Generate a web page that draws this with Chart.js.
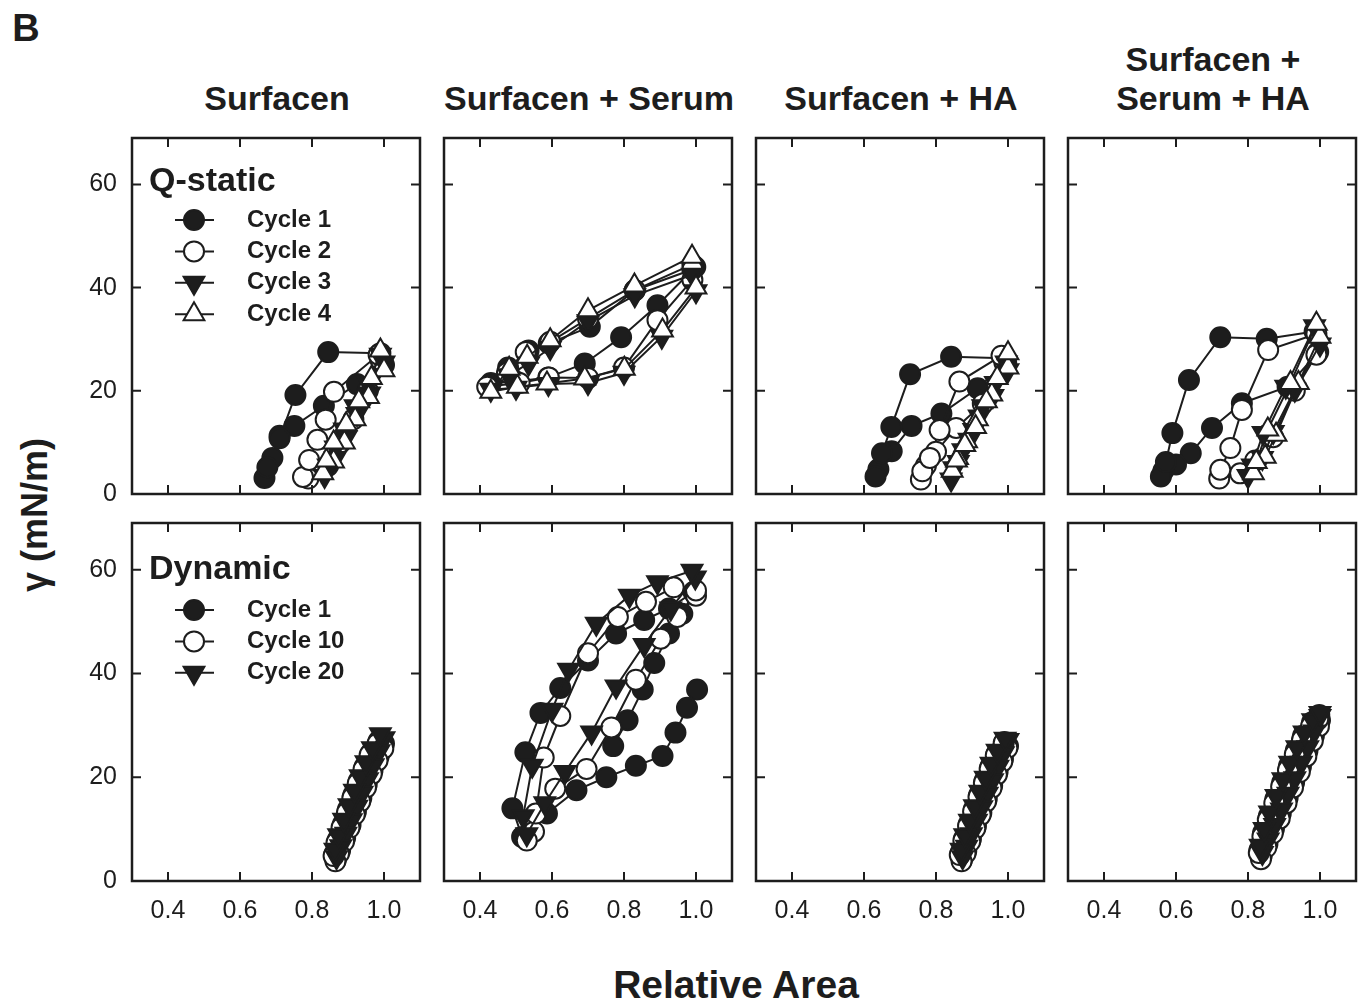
<!DOCTYPE html>
<html lang="en">

<head>
    <meta charset="UTF-8">
    <title>Surface tension vs relative area</title>
    <script src="https://cdn.jsdelivr.net/npm/chart.js"></script>
    <style>
        body { margin: 0; background: #fff; }
        #figure {
            position: relative; width: 1367px; height: 1003px; overflow: hidden;
            font-family: "Liberation Sans", Arial, sans-serif; color: #1d1d1d;
        }
        .lbl { position: absolute; font-weight: bold; white-space: pre; line-height: 1; text-align: center; transform: translate(-50%, -50%); }
        .title { position: absolute; font-weight: bold; font-size: 34px; line-height: 39px; white-space: pre; text-align: center; transform: translate(-50%, -100%); }
        canvas { position: absolute; }
    </style>
</head>

<body>
    <div id="figure">
        <div class="lbl" style="left:26px; top:28px; font-size:38px;">B</div>
        <div class="lbl" style="left:35px; top:515px; font-size:36px; transform: translate(-50%, -50%) rotate(-90deg);">γ (mN/m)</div>
        <div class="lbl" style="left:736px; top:984px; font-size:39px;">Relative Area</div>
    </div>

    <script>
        // Column headers and legend text
        const conditions = ['Surfacen', 'Surfacen + Serum', 'Surfacen + HA', 'Surfacen +\nSerum + HA'];
        const rowTitles = ['Q-static', 'Dynamic'];
        const qsCycles = ['Cycle 1', 'Cycle 2', 'Cycle 3', 'Cycle 4'];
        const dynCycles = ['Cycle 1', 'Cycle 10', 'Cycle 20'];

        // Axis ticks
        const xTicks = [0.4, 0.6, 0.8, 1.0];
        const yTicks = [0, 20, 40, 60];

        // ---- Quasi-static cycles (relative area, surface tension mN/m) ----
        // Surfacen
        const qsSurf_c1_x = [1.000, 0.925, 0.833, 0.751, 0.710, 0.690, 0.668, 0.676, 0.710, 0.754, 0.845, 0.990];
        const qsSurf_c1_y = [25.0, 21.3, 17.1, 13.2, 11.3, 7.0, 3.1, 5.2, 10.8, 19.2, 27.5, 27.3];
        const qsSurf_c2_x = [0.990, 0.955, 0.915, 0.880, 0.845, 0.790, 0.775, 0.792, 0.815, 0.838, 0.861, 0.985];
        const qsSurf_c2_y = [26.0, 20.0, 14.5, 10.0, 5.5, 3.0, 3.3, 6.6, 10.5, 14.4, 19.8, 27.0];
        const qsSurf_c3_x = [1.000, 0.960, 0.925, 0.895, 0.865, 0.835, 0.845, 0.865, 0.890, 0.920, 0.955, 0.990];
        const qsSurf_c3_y = [25.5, 19.5, 15.5, 11.0, 7.0, 3.5, 5.5, 9.0, 12.5, 17.0, 21.5, 27.0];
        const qsSurf_c4_x = [1.000, 0.957, 0.920, 0.890, 0.860, 0.830, 0.840, 0.860, 0.895, 0.930, 0.965, 0.990];
        const qsSurf_c4_y = [24.0, 18.8, 14.5, 10.0, 6.3, 4.0, 6.5, 10.0, 13.5, 18.0, 22.5, 27.8];

        // Surfacen + Serum
        const qsSer_c1_x = [0.998, 0.893, 0.792, 0.691, 0.590, 0.500, 0.430, 0.478, 0.535, 0.591, 0.705, 0.830, 0.990];
        const qsSer_c1_y = [44.0, 36.6, 30.4, 25.3, 22.6, 21.8, 21.5, 24.5, 27.8, 29.2, 32.4, 39.5, 44.5];
        const qsSer_c2_x = [0.990, 0.893, 0.800, 0.700, 0.591, 0.510, 0.420, 0.475, 0.527, 0.595, 0.700, 0.830, 0.990];
        const qsSer_c2_y = [41.5, 33.7, 24.5, 22.5, 22.6, 21.5, 20.8, 23.5, 27.5, 29.5, 34.0, 39.5, 43.5];
        const qsSer_c3_x = [1.000, 0.905, 0.800, 0.700, 0.590, 0.500, 0.430, 0.480, 0.535, 0.595, 0.700, 0.830, 0.990];
        const qsSer_c3_y = [39.3, 30.5, 23.5, 21.5, 21.3, 20.6, 20.2, 23.0, 25.3, 28.3, 33.5, 38.5, 42.5];
        const qsSer_c4_x = [1.000, 0.907, 0.801, 0.691, 0.586, 0.504, 0.430, 0.481, 0.531, 0.595, 0.700, 0.829, 0.989];
        const qsSer_c4_y = [40.0, 31.7, 24.3, 22.4, 21.4, 20.8, 19.8, 24.3, 26.6, 29.8, 35.6, 40.4, 46.0];

        // Surfacen + HA
        const qsHA_c1_x = [0.995, 0.916, 0.815, 0.732, 0.677, 0.640, 0.632, 0.650, 0.676, 0.728, 0.842, 0.990];
        const qsHA_c1_y = [25.5, 20.5, 15.6, 13.2, 8.3, 4.8, 3.4, 7.9, 13.0, 23.2, 26.6, 26.3];
        const qsHA_c2_x = [0.990, 0.930, 0.856, 0.800, 0.772, 0.758, 0.762, 0.783, 0.810, 0.865, 0.982];
        const qsHA_c2_y = [25.5, 17.5, 12.8, 8.2, 5.5, 2.8, 4.4, 7.0, 12.4, 21.8, 26.8];
        const qsHA_c3_x = [1.000, 0.958, 0.920, 0.892, 0.862, 0.842, 0.850, 0.875, 0.905, 0.930, 0.965, 0.995];
        const qsHA_c3_y = [24.0, 19.0, 15.0, 10.5, 6.2, 2.8, 5.0, 8.5, 12.4, 17.0, 21.5, 25.5];
        const qsHA_c4_x = [1.000, 0.955, 0.915, 0.885, 0.860, 0.845, 0.857, 0.880, 0.910, 0.940, 0.970, 1.000];
        const qsHA_c4_y = [24.5, 19.3, 14.5, 10.2, 7.0, 4.5, 6.5, 9.5, 13.0, 18.0, 22.5, 27.3];

        // Surfacen + Serum + HA
        const qsSerHA_c1_x = [0.995, 0.910, 0.783, 0.700, 0.641, 0.600, 0.565, 0.558, 0.572, 0.590, 0.636, 0.723, 0.852, 0.985];
        const qsSerHA_c1_y = [27.5, 20.8, 17.6, 12.8, 7.9, 5.7, 4.5, 3.4, 6.2, 11.8, 22.1, 30.4, 30.1, 31.5];
        const qsSerHA_c2_x = [0.990, 0.930, 0.870, 0.820, 0.778, 0.720, 0.723, 0.751, 0.783, 0.856, 0.990];
        const qsSerHA_c2_y = [27.0, 20.0, 11.0, 6.5, 4.0, 3.0, 4.7, 8.9, 16.3, 27.9, 31.0];
        const qsSerHA_c3_x = [1.000, 0.930, 0.870, 0.840, 0.800, 0.812, 0.842, 0.905, 0.985];
        const qsSerHA_c3_y = [29.0, 20.2, 12.0, 7.0, 3.5, 5.5, 11.8, 20.8, 32.5];
        const qsSerHA_c4_x = [1.000, 0.940, 0.878, 0.848, 0.815, 0.823, 0.855, 0.918, 0.990];
        const qsSerHA_c4_y = [30.5, 21.5, 11.5, 7.2, 4.0, 6.2, 12.5, 21.5, 33.0];

        // ---- Dynamic cycles ----
        // Surfacen
        const dySurf_c1_x = [1.000, 0.985, 0.968, 0.952, 0.937, 0.922, 0.907, 0.892, 0.878, 0.866, 0.862, 0.872, 0.886, 0.900, 0.915, 0.930, 0.946, 0.963, 0.985];
        const dySurf_c1_y = [26.5, 24.0, 21.3, 18.6, 16.0, 13.4, 10.8, 8.3, 5.9, 4.0, 5.2, 8.0, 11.0, 13.8, 16.6, 19.3, 22.0, 24.6, 27.0];
        const dySurf_c2_x = [0.998, 0.982, 0.966, 0.950, 0.934, 0.919, 0.904, 0.889, 0.875, 0.865, 0.860, 0.868, 0.882, 0.897, 0.912, 0.927, 0.943, 0.960, 0.982];
        const dySurf_c2_y = [25.5, 23.2, 20.6, 18.0, 15.3, 12.8, 10.2, 7.6, 5.3, 3.8, 4.8, 7.4, 10.3, 13.2, 16.0, 18.8, 21.5, 24.3, 26.5];
        const dySurf_c3_x = [1.000, 0.986, 0.970, 0.954, 0.939, 0.924, 0.909, 0.894, 0.880, 0.868, 0.864, 0.874, 0.888, 0.903, 0.918, 0.934, 0.950, 0.968, 0.990];
        const dySurf_c3_y = [27.5, 25.0, 22.3, 19.6, 17.0, 14.3, 11.7, 9.1, 6.7, 4.6, 6.0, 8.8, 11.8, 14.6, 17.4, 20.2, 22.9, 25.6, 28.3];

        // Surfacen + Serum
        const dySer_c1_x = [1.003, 0.975, 0.943, 0.907, 0.833, 0.751, 0.668, 0.586, 0.517, 0.490, 0.526, 0.568, 0.623, 0.700, 0.778, 0.856, 0.925, 0.993, 0.962, 0.925, 0.884, 0.852, 0.810, 0.770];
        const dySer_c1_y = [36.9, 33.4, 28.6, 24.1, 22.2, 20.0, 17.5, 13.0, 8.5, 14.0, 24.8, 32.4, 37.2, 42.5, 47.7, 50.3, 52.5, 55.7, 51.5, 47.7, 42.0, 36.9, 31.0, 26.0];
        const dySer_c2_x = [1.000, 0.948, 0.902, 0.833, 0.765, 0.696, 0.609, 0.550, 0.530, 0.555, 0.577, 0.623, 0.700, 0.783, 0.861, 0.938, 1.000];
        const dySer_c2_y = [55.0, 50.9, 46.7, 38.8, 29.6, 21.6, 17.8, 9.5, 7.8, 13.0, 23.8, 31.8, 43.9, 50.9, 53.8, 56.6, 56.0];
        const dySer_c3_x = [0.998, 0.930, 0.856, 0.778, 0.710, 0.636, 0.580, 0.530, 0.520, 0.545, 0.600, 0.646, 0.723, 0.815, 0.893, 0.989];
        const dySer_c3_y = [58.5, 52.5, 45.5, 37.5, 28.6, 21.0, 15.0, 9.0, 12.5, 22.2, 33.0, 40.7, 49.6, 55.0, 57.6, 59.8];

        // Surfacen + HA
        const dyHA_c1_x = [1.000, 0.986, 0.971, 0.956, 0.941, 0.926, 0.911, 0.897, 0.884, 0.872, 0.868, 0.878, 0.891, 0.905, 0.920, 0.935, 0.951, 0.968, 0.990];
        const dyHA_c1_y = [26.0, 23.5, 21.0, 18.4, 15.8, 13.2, 10.6, 8.1, 5.8, 4.0, 5.4, 8.2, 11.0, 13.8, 16.6, 19.3, 22.0, 24.5, 26.8];
        const dyHA_c2_x = [0.998, 0.984, 0.969, 0.954, 0.939, 0.924, 0.909, 0.895, 0.882, 0.871, 0.866, 0.876, 0.889, 0.903, 0.918, 0.933, 0.949, 0.966, 0.988];
        const dyHA_c2_y = [25.6, 23.0, 20.5, 17.9, 15.3, 12.7, 10.1, 7.6, 5.3, 3.8, 5.0, 7.8, 10.6, 13.4, 16.2, 18.9, 21.6, 24.2, 26.6];
        const dyHA_c3_x = [1.000, 0.987, 0.972, 0.957, 0.942, 0.927, 0.912, 0.898, 0.885, 0.874, 0.870, 0.880, 0.893, 0.907, 0.922, 0.937, 0.953, 0.970, 0.992];
        const dyHA_c3_y = [27.2, 24.6, 22.0, 19.4, 16.8, 14.2, 11.6, 9.0, 6.6, 4.6, 6.0, 8.8, 11.6, 14.4, 17.2, 19.9, 22.6, 25.1, 27.4];

        // Surfacen + Serum + HA
        const dySerHA_c1_x = [1.000, 0.983, 0.965, 0.947, 0.928, 0.910, 0.891, 0.872, 0.854, 0.838, 0.832, 0.842, 0.858, 0.876, 0.895, 0.914, 0.933, 0.953, 0.978, 0.998];
        const dySerHA_c1_y = [31.0, 28.0, 25.0, 22.0, 19.0, 16.0, 13.0, 10.0, 7.2, 4.8, 6.0, 9.3, 12.5, 15.8, 19.0, 22.2, 25.2, 28.0, 30.6, 32.0];
        const dySerHA_c2_x = [0.997, 0.980, 0.962, 0.944, 0.925, 0.907, 0.888, 0.869, 0.851, 0.836, 0.830, 0.840, 0.855, 0.873, 0.892, 0.911, 0.930, 0.950, 0.975, 0.995];
        const dySerHA_c2_y = [29.8, 27.0, 24.0, 21.0, 18.0, 15.0, 12.0, 9.2, 6.5, 4.2, 5.4, 8.6, 11.8, 15.0, 18.2, 21.4, 24.4, 27.2, 29.8, 31.2];
        const dySerHA_c3_x = [1.000, 0.984, 0.966, 0.948, 0.930, 0.911, 0.893, 0.874, 0.856, 0.840, 0.834, 0.845, 0.860, 0.878, 0.897, 0.916, 0.936, 0.956, 0.980, 1.000];
        const dySerHA_c3_y = [31.8, 28.8, 25.8, 22.8, 19.8, 16.8, 13.8, 10.8, 8.0, 5.4, 6.8, 10.0, 13.2, 16.4, 19.6, 22.8, 25.8, 28.6, 31.0, 32.4];

        // Panel layout (pixels)
        const INK = '#1d1d1d';
        const FONT = '"Liberation Sans", Arial, sans-serif';
        const PLOT_W = 290, AXIS_W = 120, AXIS_H = 60, PAD_T = 12, PAD_R = 12, TICK = 9;
        const colLeft = [132, 444, 756, 1068];
        const rowTop = [136, 521];
        const rowH = [358, 360];

        // Marker per cycle: filled circle, open circle, filled down triangle, open up triangle
        const markers = [
            { style: 'circle', rot: 0, r: 10, fill: INK },
            { style: 'circle', rot: 0, r: 10, fill: '#ffffff' },
            { style: 'triangle', rot: 180, r: 12, fill: INK },
            { style: 'triangle', rot: 0, r: 12, fill: '#ffffff' }
        ];

        const panels = [
            [[qsSurf_c1_x, qsSurf_c1_y], [qsSurf_c2_x, qsSurf_c2_y], [qsSurf_c3_x, qsSurf_c3_y], [qsSurf_c4_x, qsSurf_c4_y]],
            [[qsSer_c1_x, qsSer_c1_y], [qsSer_c2_x, qsSer_c2_y], [qsSer_c3_x, qsSer_c3_y], [qsSer_c4_x, qsSer_c4_y]],
            [[qsHA_c1_x, qsHA_c1_y], [qsHA_c2_x, qsHA_c2_y], [qsHA_c3_x, qsHA_c3_y], [qsHA_c4_x, qsHA_c4_y]],
            [[qsSerHA_c1_x, qsSerHA_c1_y], [qsSerHA_c2_x, qsSerHA_c2_y], [qsSerHA_c3_x, qsSerHA_c3_y], [qsSerHA_c4_x, qsSerHA_c4_y]],
            [[dySurf_c1_x, dySurf_c1_y], [dySurf_c2_x, dySurf_c2_y], [dySurf_c3_x, dySurf_c3_y]],
            [[dySer_c1_x, dySer_c1_y], [dySer_c2_x, dySer_c2_y], [dySer_c3_x, dySer_c3_y]],
            [[dyHA_c1_x, dyHA_c1_y], [dyHA_c2_x, dyHA_c2_y], [dyHA_c3_x, dyHA_c3_y]],
            [[dySerHA_c1_x, dySerHA_c1_y], [dySerHA_c2_x, dySerHA_c2_y], [dySerHA_c3_x, dySerHA_c3_y]]
        ];

        const fig = document.getElementById('figure');

        // Column headers
        conditions.forEach((name, c) => {
            const d = document.createElement('div');
            d.className = 'title';
            d.textContent = name;
            d.style.left = (colLeft[c] + PLOT_W / 2) + 'px';
            d.style.top = '117.5px';
            fig.appendChild(d);
        });

        function drawMarker(ctx, m, x, y) {
            ctx.beginPath();
            if (m.style === 'circle') {
                ctx.arc(x, y, m.r, 0, Math.PI * 2);
            } else {
                let rad = m.rot * Math.PI / 180;
                ctx.moveTo(x + Math.sin(rad) * m.r, y - Math.cos(rad) * m.r);
                for (let k = 0; k < 2; k++) {
                    rad += 2 * Math.PI / 3;
                    ctx.lineTo(x + Math.sin(rad) * m.r, y - Math.cos(rad) * m.r);
                }
                ctx.closePath();
            }
            ctx.fillStyle = m.fill;
            ctx.fill();
            ctx.lineWidth = 2;
            ctx.strokeStyle = INK;
            ctx.stroke();
        }

        // Box frame with inward ticks on all four sides
        const framePlugin = {
            id: 'frame',
            afterDraw(chart) {
                const { ctx, chartArea: a } = chart;
                const xs = chart.scales.x, ys = chart.scales.y;
                ctx.save();
                ctx.strokeStyle = INK;
                ctx.lineWidth = 2.5;
                ctx.strokeRect(a.left, a.top, a.right - a.left, a.bottom - a.top);
                ctx.lineWidth = 2;
                ctx.beginPath();
                xs.ticks.forEach(t => {
                    const px = xs.getPixelForValue(t.value);
                    ctx.moveTo(px, a.bottom); ctx.lineTo(px, a.bottom - TICK);
                    ctx.moveTo(px, a.top); ctx.lineTo(px, a.top + TICK);
                });
                ys.ticks.forEach(t => {
                    const py = ys.getPixelForValue(t.value);
                    ctx.moveTo(a.left, py); ctx.lineTo(a.left + TICK, py);
                    ctx.moveTo(a.right, py); ctx.lineTo(a.right - TICK, py);
                });
                ctx.stroke();
                ctx.restore();
            }
        };

        // Legend drawn inside the first panel of each row
        function legendPlugin(title, labels, headY, firstY) {
            return {
                id: 'cycleLegend',
                afterDraw(chart) {
                    const { ctx, chartArea: a } = chart;
                    ctx.save();
                    ctx.fillStyle = INK;
                    ctx.textAlign = 'left';
                    ctx.textBaseline = 'middle';
                    ctx.font = 'bold 34px ' + FONT;
                    ctx.fillText(title, a.left + 17, a.top + headY);
                    labels.forEach((lab, i) => {
                        const cy = a.top + firstY + i * 31.4;
                        ctx.beginPath();
                        ctx.moveTo(a.left + 43, cy);
                        ctx.lineTo(a.left + 82, cy);
                        ctx.lineWidth = 2;
                        ctx.strokeStyle = INK;
                        ctx.stroke();
                        drawMarker(ctx, markers[i], a.left + 62, cy);
                        ctx.fillStyle = INK;
                        ctx.font = 'bold 24px ' + FONT;
                        ctx.fillText(lab, a.left + 115, cy);
                    });
                    ctx.restore();
                }
            };
        }

        panels.forEach((series, p) => {
            const row = Math.floor(p / 4), col = p % 4;
            const labels = row === 0 ? qsCycles : dynCycles;
            const canvas = document.createElement('canvas');
            canvas.width = AXIS_W + PLOT_W + PAD_R;
            canvas.height = PAD_T + rowH[row] + AXIS_H;
            canvas.style.left = (colLeft[col] - AXIS_W) + 'px';
            canvas.style.top = (rowTop[row] - PAD_T) + 'px';
            fig.appendChild(canvas);

            const plugins = [framePlugin];
            if (col === 0) {
                plugins.push(row === 0 ? legendPlugin(rowTitles[0], labels, 44, 82) : legendPlugin(rowTitles[1], labels, 47, 87));
            }

            new Chart(canvas, {
                type: 'scatter',
                data: {
                    datasets: series.map((s, i) => ({
                        label: labels[i],
                        data: s[0].map((v, k) => ({ x: v, y: s[1][k] })),
                        showLine: true,
                        tension: 0,
                        borderColor: INK,
                        borderWidth: 2,
                        pointStyle: markers[i].style,
                        pointRotation: markers[i].rot,
                        pointRadius: markers[i].r,
                        pointBackgroundColor: markers[i].fill,
                        pointBorderColor: INK,
                        pointBorderWidth: 2,
                        order: series.length - i
                    }))
                },
                options: {
                    responsive: false,
                    animation: false,
                    devicePixelRatio: 1,
                    events: [],
                    layout: { padding: { left: 0, top: PAD_T, right: PAD_R, bottom: 0 } },
                    plugins: { legend: { display: false }, tooltip: { enabled: false } },
                    scales: {
                        x: {
                            type: 'linear',
                            min: 0.3,
                            max: 1.1,
                            afterBuildTicks: s => { s.ticks = xTicks.map(v => ({ value: v })); },
                            // fixed axis size so every plot box lands on the same pixels
                            afterFit: s => { s.height = AXIS_H; s.paddingLeft = 0; s.paddingRight = 0; },
                            grid: { display: false, drawTicks: false },
                            border: { display: false },
                            ticks: {
                                display: row === 1,
                                padding: 15,
                                maxRotation: 0,
                                autoSkip: false,
                                color: INK,
                                font: { family: FONT, size: 25 },
                                callback: v => Number(v).toFixed(1)
                            }
                        },
                        y: {
                            type: 'linear',
                            min: 0,
                            max: 69,
                            afterBuildTicks: s => { s.ticks = yTicks.map(v => ({ value: v })); },
                            afterFit: s => { s.width = AXIS_W; s.paddingTop = 0; s.paddingBottom = 0; },
                            grid: { display: false, drawTicks: false },
                            border: { display: false },
                            ticks: {
                                display: col === 0,
                                padding: 15,
                                autoSkip: false,
                                color: INK,
                                font: { family: FONT, size: 25 },
                                callback: v => String(v)
                            }
                        }
                    }
                },
                plugins: plugins
            });
        });
    </script>
</body>

</html>
